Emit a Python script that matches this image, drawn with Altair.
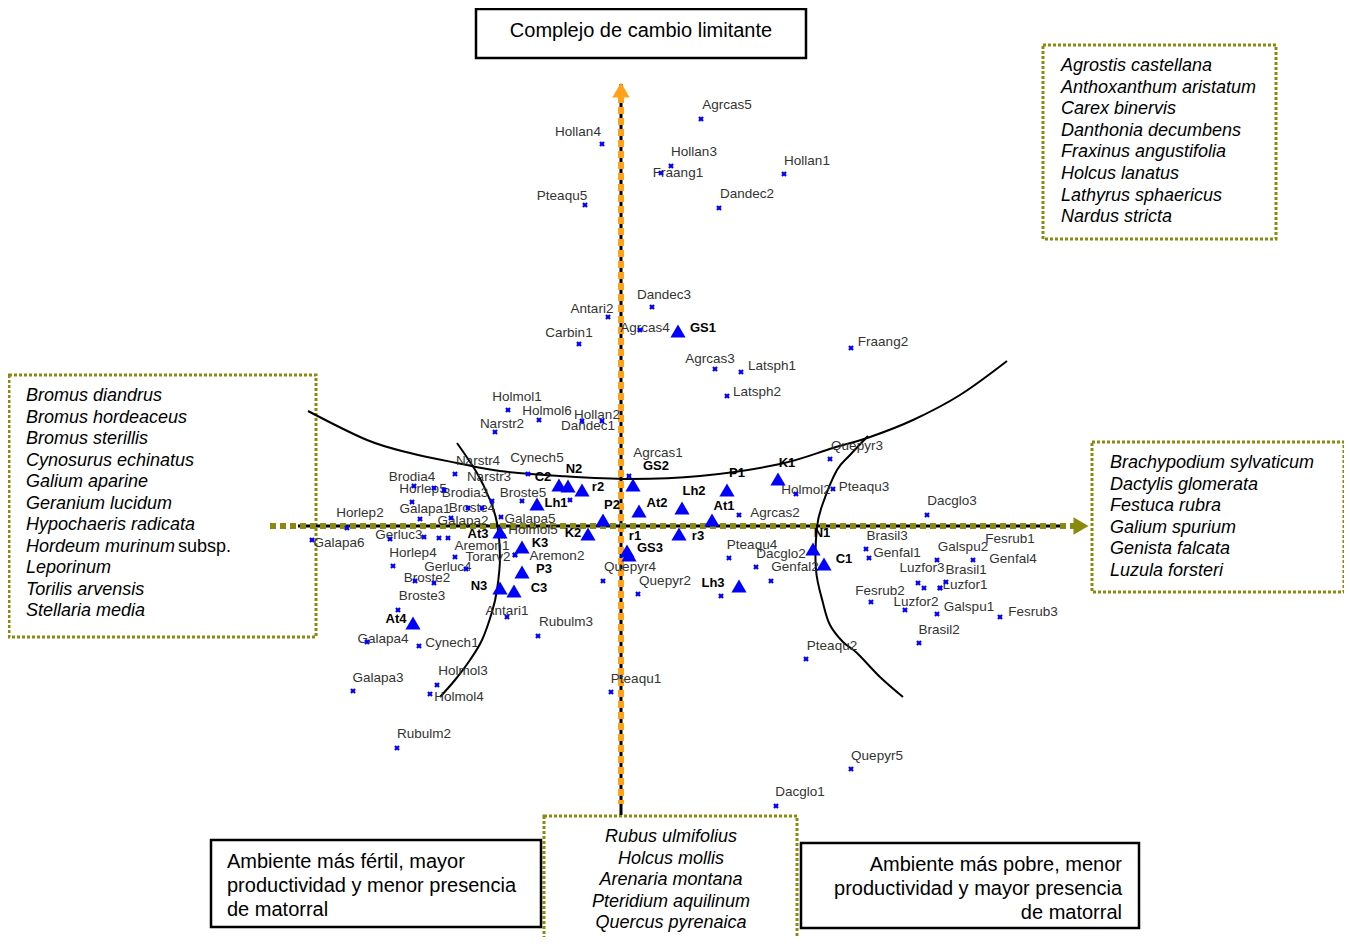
import altair as alt
import pandas as pd

# ---------------- data (in picture coordinates) ----------------
sp_name = ["Agrcas5", "Hollan4", "Hollan3", "Fraang1", "Hollan1", "Pteaqu5", "Dandec2", "Dandec3",
           "Antari2", "Carbin1", "Agrcas4", "Fraang2", "Agrcas3", "Latsph1", "Latsph2", "Holmol1",
           "Holmol6", "Narstr2", "Hollan2", "Dandec1", "Cynech5", "Narstr4", "Narstr3", "Agrcas1",
           "Brodia4", "Horlep5", "Brodia3", "Broste5", "Broste4", "Galapa1", "Horlep2", "Galapa2",
           "Galapa5", "Galapa6", "Gerluc3", "Aremon1", "Holmol5", "Aremon2", "Horlep4", "Torarv2",
           "Gerluc4", "Broste2", "Broste3", "Antari1", "Rubulm3", "Agrcas2", "Holmol2", "Pteaqu3",
           "Quepyr3", "Quepyr4", "Quepyr2", "Pteaqu4", "Dacglo2", "Genfal2", "Dacglo3", "Brasil3",
           "Genfal1", "Galspu2", "Fesrub1", "Genfal4", "Luzfor3", "Brasil1", "Luzfor1", "Fesrub2",
           "Luzfor2", "Galspu1", "Fesrub3", "Brasil2", "Galapa4", "Cynech1", "Galapa3", "Holmol3",
           "Holmol4", "Rubulm2", "Pteaqu2", "Pteaqu1", "Quepyr5", "Dacglo1"]
sp_x = [701, 602, 671, 661, 784, 585, 719, 652, 608, 579, 640, 851, 715, 741, 727, 508,
        539, 495, 582, 602, 528, 455, 482, 629, 414, 434, 468, 522, 492, 412, 347, 451,
        501, 312, 424, 455, 503, 515, 393, 466, 434, 415, 398, 507, 538, 739, 796, 833,
        830, 603, 638, 729, 756, 771, 927, 866, 869, 937, 946, 973, 918, 924, 940, 871,
        905, 937, 1000, 919, 367, 419, 353, 437, 430, 397, 806, 611, 851, 776]
sp_y = [119, 144, 166, 173, 174, 205, 208, 307, 317, 344, 330, 348, 369, 372, 396, 410,
        420, 432, 421, 421, 474, 474, 508, 476, 486, 488, 508, 501, 501, 502, 528, 518,
        517, 540, 537, 557, 536, 555, 566, 569, 583, 581, 610, 617, 636, 515, 494, 489,
        459, 581, 594, 558, 567, 581, 515, 549, 558, 560, 582, 560, 583, 588, 588, 602,
        610, 614, 617, 643, 642, 646, 691, 685, 694, 748, 659, 692, 769, 806]
sp_lx = [727, 578, 694, 678, 807, 562, 747, 664, 592, 569, 645, 883, 710, 772, 757, 517,
         547, 502, 597, 588, 537, 478, 489, 658, 412, 423, 465, 523, 472, 425, 360, 463,
         530, 339, 399, 482, 533, 557, 413, 488, 448, 427, 422, 507, 566, 775, 806, 864,
         857, 630, 665, 752, 781, 795, 952, 887, 897, 963, 1010, 1013, 922, 966, 965, 880,
         916, 969, 1033, 939, 383, 452, 378, 463, 459, 424, 832, 636, 877, 800]
sp_ly = [105, 132, 152, 173, 161, 196, 194, 295, 309, 333, 328, 342, 359, 366, 392, 397,
         411, 424, 415, 426, 458, 461, 477, 453, 477, 489, 493, 493, 508, 509, 513, 521,
         519, 543, 535, 546, 530, 556, 553, 557, 567, 578, 596, 611, 622, 513, 490, 487,
         446, 567, 581, 545, 554, 567, 501, 536, 553, 547, 539, 559, 568, 570, 585, 591,
         602, 607, 612, 630, 639, 643, 678, 671, 697, 734, 646, 679, 756, 792]

# extra species points whose labels overlap others
ex_x = [444, 420, 390, 439, 448, 570, 721, 515, 940]
ex_y = [490, 519, 539, 538, 538, 500, 596, 555, 588]

site_name = ["GS1", "C2", "N2", "r2", "GS2", "Lh1", "P2", "At2", "Lh2", "P1", "K1", "At1", "K2",
             "At3", "K3", "P3", "N3", "C3", "At4", "r1", "GS3", "r3", "Lh3", "N1", "C1"]
site_x = [678, 559, 568, 582, 633, 537, 603, 639, 682, 727, 778, 712, 588,
          500, 522, 522, 500, 514, 413, 627, 629, 679, 739, 813, 824]
site_y = [331, 485, 486, 490, 485, 504, 520, 511, 508, 490, 479, 520, 534,
          532, 547, 572, 588, 591, 623, 551, 555, 534, 586, 549, 564]
site_lx = [703, 543, 574, 598, 656, 556, 612, 657, 694, 737, 787, 724, 573,
           478, 540, 544, 479, 539, 396, 635, 650, 698, 713, 822, 844]
site_ly = [328, 477, 469, 487, 466, 503, 505, 503, 491, 473, 463, 506, 533,
           534, 543, 569, 586, 588, 619, 536, 548, 536, 583, 533, 559]

curve_top_x = [308, 367, 410, 457, 500, 560, 630, 700, 780, 833, 870, 913, 960, 1007]
curve_top_y = [411, 440, 453, 463, 471, 476, 479, 476, 464, 448, 437, 420, 395, 361]
curve_left_x = [457, 477, 490, 497, 500, 497, 492, 482, 470, 455, 440]
curve_left_y = [443, 473, 500, 523, 557, 590, 612, 640, 660, 680, 697]
curve_right_x = [868, 850, 837, 823, 817, 816, 823, 830, 843, 857, 880, 903]
curve_right_y = [436, 455, 470, 503, 527, 570, 603, 625, 642, 653, 677, 697]

axis_title = "Complejo de cambio limitante"
legend_top_right = ["Agrostis castellana", "Anthoxanthum aristatum", "Carex binervis",
                    "Danthonia decumbens", "Fraxinus angustifolia", "Holcus lanatus",
                    "Lathyrus sphaericus", "Nardus stricta"]
legend_left = ["Bromus diandrus", "Bromus hordeaceus", "Bromus sterillis", "Cynosurus echinatus",
               "Galium aparine", "Geranium lucidum", "Hypochaeris radicata", "Hordeum murinum",
               "Leporinum", "Torilis arvensis", "Stellaria media"]
legend_left_extra = "subsp."
legend_right = ["Brachypodium sylvaticum", "Dactylis glomerata", "Festuca rubra",
                "Galium spurium", "Genista falcata", "Luzula forsteri"]
legend_bottom = ["Rubus ulmifolius", "Holcus mollis", "Arenaria montana",
                 "Pteridium aquilinum", "Quercus pyrenaica"]
note_left = ["Ambiente más fértil, mayor", "productividad y menor presencia", "de matorral"]
note_right = ["Ambiente más pobre, menor", "productividad y mayor presencia", "de matorral"]

# ---------------- layout ----------------
X0, X1, Y0, Y1 = 8, 1344, 8, 937
W, H = X1 - X0, Y1 - Y0
FONT = "Liberation Sans"
BLUE = "#0000FF"
ORANGE = "#FFA21A"
OLIVE = "#8A8A0F"

xs = alt.Scale(domain=[X0, X1], nice=False, zero=False)
ys = alt.Scale(domain=[Y0, Y1], reverse=True, nice=False, zero=False)


def ex(f="x"):
    return alt.X(f, type="quantitative", scale=xs, axis=None)


def ey(f="y"):
    return alt.Y(f, type="quantitative", scale=ys, axis=None)


layers = []

# boxes
black_boxes = pd.DataFrame({"x": [476, 211, 801], "y": [9, 840, 843],
                            "x2": [806, 541, 1139], "y2": [58, 927, 928]})
olive_boxes = pd.DataFrame({"x": [1043, 9, 1092, 544], "y": [45, 375, 442, 816],
                            "x2": [1276, 316, 1344, 797], "y2": [239, 637, 592, 942]})
layers.append(alt.Chart(olive_boxes).mark_rect(fill=None, stroke=OLIVE, strokeWidth=3,
                                               strokeDash=[3, 2]).encode(
    x=ex(), y=ey(), x2="x2", y2="y2"))
layers.append(alt.Chart(black_boxes).mark_rect(fill=None, stroke="black", strokeWidth=2.5).encode(
    x=ex(), y=ey(), x2="x2", y2="y2"))

# axes
vline = pd.DataFrame({"x": [621], "y": [84], "y2": [815]})
hline = pd.DataFrame({"y": [526], "x": [298], "x2": [1064]})
layers.append(alt.Chart(vline).mark_rule(color="black", strokeWidth=3).encode(
    x=ex(), y=ey(), y2="y2"))
layers.append(alt.Chart(pd.DataFrame({"x": [621], "y": [96], "y2": [804]})).mark_rule(
    color=ORANGE, strokeWidth=6, strokeDash=[7, 4]).encode(x=ex(), y=ey(), y2="y2"))
layers.append(alt.Chart(hline).mark_rule(color="black", strokeWidth=3).encode(
    x=ex(), y=ey(), x2="x2"))
layers.append(alt.Chart(pd.DataFrame({"y": [526], "x": [270], "x2": [1074]})).mark_rule(
    color=OLIVE, strokeWidth=6, strokeDash=[6, 4]).encode(x=ex(), y=ey(), x2="x2"))
layers.append(alt.Chart(pd.DataFrame({"x": [621], "y": [90]})).mark_point(
    shape="triangle-up", size=300, filled=True, opacity=1, color=ORANGE).encode(x=ex(), y=ey()))
layers.append(alt.Chart(pd.DataFrame({"x": [1081], "y": [526]})).mark_point(
    shape="triangle-right", size=300, filled=True, opacity=1, color=OLIVE).encode(x=ex(), y=ey()))

# curves
cur = []
for cid, (cx, cy) in enumerate([(curve_top_x, curve_top_y), (curve_left_x, curve_left_y),
                                (curve_right_x, curve_right_y)]):
    for i, (a, b) in enumerate(zip(cx, cy)):
        cur.append({"x": a, "y": b, "o": i, "c": cid})
layers.append(alt.Chart(pd.DataFrame(cur)).mark_line(color="black", strokeWidth=2,
                                                     interpolate="cardinal").encode(
    x=ex(), y=ey(), detail="c:N", order="o:Q"))

# species
sp = pd.DataFrame({"name": sp_name, "x": sp_x, "y": sp_y, "lx": sp_lx, "ly": sp_ly})
exd = pd.DataFrame({"x": ex_x, "y": ex_y})
layers.append(alt.Chart(sp).mark_text(font=FONT, fontSize=13.5, color="#333333",
                                      align="center", baseline="middle").encode(
    x=ex("lx"), y=ey("ly"), text="name"))
for d in (sp, exd):
    layers.append(alt.Chart(d).mark_point(shape="cross", angle=45, size=32, filled=True,
                                          opacity=1, color=BLUE).encode(x=ex(), y=ey()))

# sites
st = pd.DataFrame({"name": site_name, "x": site_x, "y": site_y, "lx": site_lx, "ly": site_ly})
layers.append(alt.Chart(st).mark_point(shape="triangle-up", size=230, filled=True, opacity=1,
                                       color=BLUE).encode(x=ex(), y=ey()))
layers.append(alt.Chart(st).mark_text(font=FONT, fontSize=13, fontWeight="bold", color="black",
                                      align="center", baseline="middle").encode(
    x=ex("lx"), y=ey("ly"), text="name"))


# texts
def tlayer(texts, xs_, ys_, align, style="normal", size=18):
    d = pd.DataFrame({"t": texts, "x": xs_, "y": ys_})
    return alt.Chart(d).mark_text(font=FONT, fontSize=size, fontStyle=style, color="black",
                                  align=align, baseline="middle").encode(
        x=ex(), y=ey(), text="t")


layers.append(tlayer([axis_title], [641], [31], "center", size=20))
layers.append(tlayer(legend_top_right, [1061] * 8, [66 + 21.6 * i for i in range(8)], "left", "italic"))
layers.append(tlayer(legend_left, [26] * 11, [396 + 21.5 * i for i in range(11)], "left", "italic"))
layers.append(tlayer([legend_left_extra], [178], [396 + 21.5 * 7], "left"))
layers.append(tlayer(legend_right, [1110] * 6, [463 + 21.6 * i for i in range(6)], "left", "italic"))
layers.append(tlayer(legend_bottom, [671] * 5, [837 + 21.5 * i for i in range(5)], "center", "italic"))
layers.append(tlayer(note_left, [227] * 3, [862, 886, 910], "left", size=20))
layers.append(tlayer(note_right, [1122] * 3, [865, 889, 913], "right", size=20))

chart = alt.layer(*layers).properties(
    width=W, height=H, padding=0, autosize=alt.AutoSizeParams(type="none")
).configure_view(stroke=None)

chart.save("out.html", embed_options={"renderer": "svg", "actions": False})
